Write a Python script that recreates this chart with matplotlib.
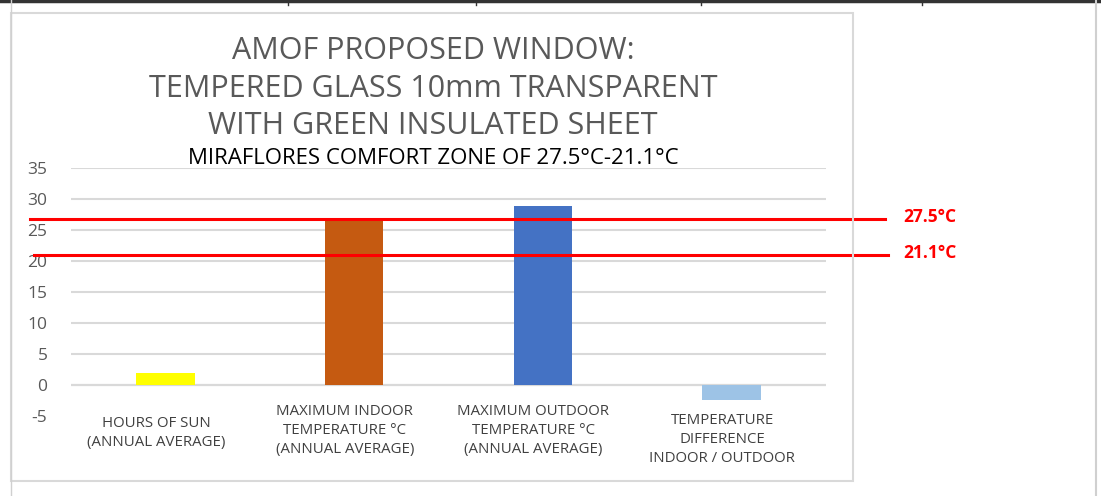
import matplotlib.pyplot as plt
from matplotlib.patches import Rectangle
from matplotlib.lines import Line2D
import matplotlib.transforms as mtransforms

plt.rcParams['font.family'] = ['Open Sans', 'DejaVu Sans']

# Data
categories = ["HOURS OF SUN\n(ANNUAL AVERAGE)",
              "MAXIMUM INDOOR\nTEMPERATURE °C\n(ANNUAL AVERAGE)",
              "MAXIMUM OUTDOOR\nTEMPERATURE °C\n(ANNUAL AVERAGE)",
              "TEMPERATURE\nDIFFERENCE\nINDOOR / OUTDOOR"]
values = [1.9, 26.4, 28.9, -2.5]
colors = ["#FFFF00", "#C55A11", "#4472C4", "#9DC3E6"]
yticks = [-5, 0, 5, 10, 15, 20, 25, 30, 35]

# comfort zone lines (as drawn in the picture) and their labels
zone_lines = [26.7, 20.9]
zone_labels = ["27.5°C", "21.1°C"]

title_lines = ["AMOF PROPOSED WINDOW:",
               "TEMPERED GLASS 10mm TRANSPARENT",
               "WITH GREEN INSULATED SHEET"]
subtitle = "MIRAFLORES COMFORT ZONE OF 27.5°C-21.1°C"

fig = plt.figure(figsize=(11.01, 4.96), dpi=100)

# page / table decoration
fig.add_artist(Line2D([0, 1], [0.997, 0.997], color="#333333", lw=2.5, transform=fig.transFigure))
for xp in [288, 476, 701, 922]:
    fig.add_artist(Line2D([xp / 1101, xp / 1101], [0.99, 1.0], color="#333333", lw=1, transform=fig.transFigure))
fig.add_artist(Line2D([10.5 / 1101, 10.5 / 1101], [0, 1], color="#d0d0d0", lw=1, transform=fig.transFigure))
fig.add_artist(Line2D([1095.5 / 1101, 1095.5 / 1101], [0, 1], color="#d0d0d0", lw=1.5, transform=fig.transFigure))
# chart box
fig.add_artist(Rectangle((10.5 / 1101, 1 - 481 / 496), (853 - 10.5) / 1101, (481 - 13) / 496,
                         fill=False, edgecolor="#d9d9d9", lw=1.5, transform=fig.transFigure))

ax = fig.add_axes([71 / 1101, 80 / 496, 755 / 1101, 248.3 / 496])
x = range(len(categories))
ax.bar(x, values, width=0.31, color=colors, zorder=2)
ax.set_xlim(-0.5, 3.5)
ax.set_ylim(-5, 35)
ax.set_yticks(yticks)
ax.set_yticklabels([str(v) for v in yticks], fontsize=12.5, color="#595959")
ax.tick_params(axis="y", length=0, pad=17)
ax.set_xticks([])
for s in ax.spines.values():
    s.set_visible(False)
ax.yaxis.grid(True, color="#d9d9d9", lw=1.5, zorder=0)
ax.axhline(0, color="#d0d0d0", lw=1.5, zorder=1)
ax.yaxis.get_gridlines()[0].set_visible(False)

# category labels
tr = mtransforms.blended_transform_factory(ax.transData, fig.transFigure)
label_tops = [416, 404, 404, 413]
for i, (lab, top) in enumerate(zip(categories, label_tops)):
    ax.text(i - 0.05, 1 - top / 496, lab, transform=tr, ha="center", va="top",
            fontsize=10.8, color="#404040", linespacing=1.38)

# comfort zone lines
tl = mtransforms.blended_transform_factory(ax.transAxes, ax.transData)
starts = [(30 - 71) / 755, (34 - 71) / 755]
ends = [(885 - 71) / 755, (888 - 71) / 755]
for yv, lab, x0, x1 in zip(zone_lines, zone_labels, starts, ends):
    ax.plot([x0, x1], [yv, yv], color="#FF0000", lw=2.2, transform=tl, clip_on=False, zorder=3)
    ax.text((903 - 71) / 755, yv + 0.4, lab, transform=tl, color="#FF0000", fontsize=12.5,
            fontweight="bold", va="center", ha="left")

# titles
for ty, line in zip([51, 89, 126], title_lines):
    fig.text(433 / 1101, 1 - ty / 496, line, ha="center", va="center", fontsize=22, color="#595959")
fig.text(433 / 1101, 1 - 158 / 496, subtitle, ha="center", va="center", fontsize=16, color="black")

fig.savefig("out.png", dpi=100)
